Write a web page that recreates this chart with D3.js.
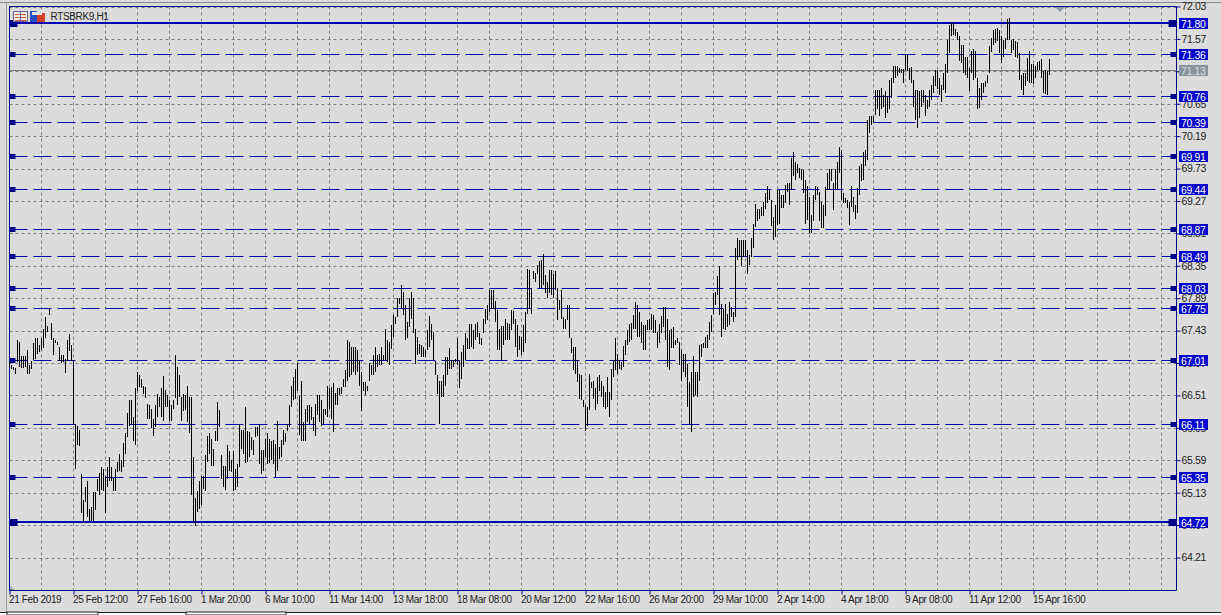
<!DOCTYPE html>
<html>
<head>
<meta charset="utf-8">
<title>RTSBRK9,H1</title>
<script src="https://cdn.jsdelivr.net/npm/d3@7"></script>
<style>
  html, body { margin: 0; padding: 0; background: #dcdcdc; overflow: hidden; }
  text { font-family: "Liberation Sans", Arial, sans-serif; font-size: 10px; letter-spacing: -0.35px; }
</style>
</head>
<body>
<div id="chart"></div>
<script>
// Hourly bars, one high and one low per bar
const highs = [
66.99,66.94,66.92,66.90,67.29,67.27,67.07,67.07,67.07,67.16,66.94,67.00,67.25,67.32,67.32,67.22,
67.32,67.45,67.63,67.49,67.74,67.54,67.33,67.29,67.27,67.20,67.08,67.09,67.03,67.30,67.38,67.22,
67.01,66.10,66.08,66.02,65.40,65.03,65.21,65.30,64.90,64.92,65.14,65.14,65.33,65.41,65.49,65.47,
65.37,65.50,65.63,65.49,65.34,65.47,65.56,65.68,65.59,65.83,65.97,66.26,66.44,66.44,66.21,66.62,
66.84,66.80,66.75,66.65,66.63,66.39,66.38,66.32,66.18,66.37,66.53,66.49,66.61,66.78,66.59,66.51,
66.44,66.38,66.44,67.09,66.92,66.80,66.49,66.53,66.51,66.65,66.49,66.49,65.63,65.06,65.16,65.30,
65.37,65.37,65.66,65.94,65.97,65.89,65.75,66.01,66.42,66.31,65.66,65.51,65.51,65.81,65.72,65.59,
65.72,65.47,65.54,66.11,66.02,66.02,66.35,66.01,65.99,65.92,65.88,66.06,66.06,66.11,65.74,65.74,
65.89,65.97,65.89,65.87,65.88,65.82,66.15,65.78,65.88,66.02,65.97,66.11,66.38,66.65,66.77,66.89,
66.97,66.50,66.72,66.13,66.32,66.37,66.38,66.35,66.20,66.39,66.52,66.52,66.45,66.32,66.32,66.65,
66.61,66.63,66.68,66.54,66.61,66.61,66.63,66.75,66.87,67.29,67.27,67.20,67.20,67.20,67.15,67.02,
66.84,66.70,66.70,66.65,66.97,66.94,67.08,67.20,67.08,67.10,67.20,67.08,67.46,67.29,67.27,67.51,
67.65,67.63,67.89,67.89,68.08,67.98,67.79,67.55,67.89,67.98,67.89,67.46,67.34,67.24,67.22,67.20,
67.15,67.44,67.64,67.53,67.41,67.00,66.80,66.72,66.72,66.80,67.06,67.06,67.19,67.02,67.01,67.03,
67.33,67.01,67.13,67.22,67.40,67.32,67.52,67.53,67.44,67.53,67.55,67.39,67.33,67.60,67.74,67.79,
68.01,68.01,68.01,67.85,67.72,67.46,67.49,67.49,67.59,67.54,67.53,67.72,67.71,67.60,67.51,67.35,
67.34,67.51,67.70,68.31,68.29,68.03,68.27,68.25,68.36,68.42,68.43,68.52,68.22,68.12,68.29,68.29,
68.24,68.27,68.03,67.86,68.01,67.62,67.60,67.79,67.79,67.32,67.20,67.20,67.01,66.82,66.80,66.44,
66.37,66.35,66.82,66.70,66.72,66.61,66.77,66.80,66.72,66.65,66.56,66.77,66.56,66.89,67.01,67.32,
67.10,67.01,66.99,67.21,67.29,67.44,67.52,67.54,67.65,67.83,67.79,67.70,67.55,67.51,67.51,67.58,
67.60,67.67,67.65,67.58,67.41,67.53,67.64,67.77,67.77,67.59,67.44,67.46,67.48,67.29,67.32,67.27,
67.15,67.10,67.10,66.96,66.70,66.84,67.07,66.84,66.84,67.22,67.24,67.25,67.34,67.37,67.55,67.65,
67.97,67.98,68.20,68.34,67.81,67.74,67.81,67.67,67.84,67.77,67.70,68.60,68.75,68.72,68.72,68.72,
68.72,68.57,68.50,68.74,68.95,69.23,69.15,69.15,69.19,69.26,69.38,69.48,69.44,69.29,69.04,69.21,
69.43,69.43,69.36,69.36,69.50,69.52,69.52,69.88,69.96,69.82,69.80,69.74,69.72,69.71,69.57,69.48,
69.33,69.07,69.36,69.48,69.47,69.40,69.26,69.21,69.47,69.66,69.72,69.72,69.52,69.72,69.83,70.03,
69.99,69.38,69.31,69.29,69.26,69.48,69.33,69.21,69.45,69.76,69.80,69.96,70.00,70.42,70.47,70.47,
70.48,70.85,70.85,70.85,70.87,70.78,70.83,70.76,70.99,71.02,71.19,71.19,71.18,71.16,71.14,71.14,
71.35,71.35,71.16,71.17,70.99,70.85,70.85,70.83,70.85,70.85,70.78,70.71,70.85,70.91,71.04,71.13,
71.11,71.02,70.92,71.09,71.21,71.56,71.77,71.79,71.79,71.71,71.67,71.61,71.48,71.48,71.32,71.32,
71.16,71.40,71.42,71.40,71.02,70.87,70.94,70.95,70.97,71.06,71.47,71.58,71.69,71.71,71.73,71.69,
71.61,71.56,71.58,71.85,71.86,71.56,71.57,71.54,71.52,71.37,71.06,71.09,71.09,71.30,71.40,71.21,
71.21,71.18,71.24,71.25,71.29,71.11,71.13,71.11,71.29
];
const lows = [
66.91,66.88,66.87,66.81,66.99,66.91,66.90,66.90,66.92,66.81,66.81,66.89,67.01,67.03,67.10,67.13,
67.16,67.19,67.32,67.41,67.65,67.30,67.08,67.25,67.22,67.00,66.97,66.99,66.83,67.00,67.14,67.00,
66.11,65.47,65.80,65.79,64.84,64.72,65.00,64.78,64.73,64.73,64.73,64.88,65.16,65.10,65.17,65.16,
64.84,65.21,65.29,65.30,65.16,65.16,65.42,65.44,65.43,65.49,65.68,65.92,66.08,66.11,65.87,65.81,
66.58,66.63,66.61,66.53,66.48,66.18,66.17,66.05,65.94,66.06,66.21,66.35,66.20,66.15,66.34,66.35,
66.15,66.15,66.32,66.48,66.37,66.49,66.15,66.29,66.31,66.13,65.97,65.10,64.71,64.65,64.85,64.90,
64.95,65.18,65.16,65.56,65.68,65.51,65.51,65.87,65.87,66.06,65.33,65.21,65.17,65.33,65.44,65.42,
65.16,65.17,65.21,65.49,65.75,65.68,65.55,65.56,65.63,65.73,65.66,65.92,65.94,65.53,65.39,65.44,
65.63,65.54,65.55,65.59,65.54,65.35,65.44,65.61,65.63,65.80,65.85,66.01,66.06,66.35,66.44,66.46,
66.58,65.95,65.87,65.87,65.87,66.13,66.11,66.16,66.01,65.93,66.23,66.13,66.08,66.11,66.23,66.20,
66.32,66.18,65.99,66.37,66.37,66.51,66.53,66.63,66.63,66.72,66.77,66.80,66.84,66.80,66.84,66.65,
66.29,66.58,66.51,66.58,66.72,66.80,66.80,66.84,66.91,66.94,66.94,67.01,67.01,66.98,66.94,67.17,
67.34,67.52,67.63,67.81,67.74,67.65,67.30,67.32,67.48,67.60,67.39,66.96,67.08,67.10,67.06,67.06,
67.05,67.15,67.20,67.29,67.01,66.80,66.53,66.10,66.49,66.49,66.65,66.80,66.88,66.89,66.91,66.98,
66.94,66.61,66.75,66.91,67.01,67.17,67.17,67.20,67.17,67.29,67.34,67.24,67.22,67.40,67.53,67.58,
67.70,67.74,67.74,67.55,67.15,67.15,67.00,67.22,67.29,67.29,67.29,67.44,67.53,67.20,67.05,67.15,
67.08,67.13,67.25,67.67,67.74,67.66,68.16,68.12,68.24,68.03,68.03,68.08,67.96,67.89,67.96,67.93,
67.89,68.00,67.58,67.72,67.60,67.46,67.46,67.58,67.32,67.11,66.87,66.82,66.70,66.46,66.44,66.35,
66.01,66.08,66.30,66.61,66.46,66.30,66.39,66.58,66.49,66.34,66.32,66.35,66.20,66.44,66.77,66.87,
66.82,66.89,66.87,66.91,67.08,67.22,67.27,67.29,67.46,67.46,67.34,67.34,67.25,67.15,67.15,67.44,
67.44,67.44,67.39,67.39,67.18,67.25,67.39,67.48,67.29,66.91,66.87,67.18,67.18,67.22,67.25,66.94,
66.72,66.84,66.77,66.35,66.11,65.99,66.49,66.51,66.49,66.72,67.06,67.18,67.18,67.18,67.29,67.41,
67.67,67.79,67.93,67.65,67.34,67.46,67.44,67.48,67.51,67.63,67.55,67.63,68.43,68.48,68.35,68.48,
68.47,68.24,68.36,68.48,68.60,68.90,68.98,69.02,69.05,69.05,69.15,69.24,69.29,68.91,68.72,68.76,
68.93,68.95,69.17,69.17,69.24,69.40,69.21,69.43,69.62,69.57,69.66,69.59,69.57,69.38,68.95,69.00,
68.81,68.81,68.98,69.29,69.36,68.98,68.88,68.88,69.06,69.43,69.43,69.55,69.14,69.43,69.43,69.66,
69.29,69.24,69.24,69.17,68.93,69.19,69.12,69.02,69.10,69.36,69.56,69.57,69.76,69.85,70.23,70.35,
70.39,70.49,70.57,70.47,70.57,70.61,70.45,70.52,70.57,70.73,70.95,71.02,71.04,71.09,71.08,70.94,
71.13,71.11,70.99,70.95,70.61,70.42,70.30,70.45,70.61,70.66,70.47,70.57,70.61,70.71,70.80,70.90,
70.86,70.78,70.68,70.85,70.80,71.09,71.37,71.61,71.63,71.61,71.56,71.25,71.23,71.09,71.06,71.02,
70.83,71.09,70.99,71.02,70.57,70.59,70.71,70.80,70.89,70.94,71.09,71.38,71.49,71.51,71.54,71.37,
71.23,71.32,71.42,71.56,71.56,71.37,71.41,71.32,71.30,70.99,70.85,70.77,70.90,70.97,70.94,70.94,
70.93,71.02,71.13,71.13,71.02,70.80,70.79,70.78,71.06
];

const priceTicks = [72.03,71.57,71.11,70.65,70.19,69.73,69.27,68.81,68.35,67.89,67.43,66.97,66.51,66.05,65.59,65.13,64.67,64.21];
const timeLabels = ["21 Feb 2019","25 Feb 12:00","27 Feb 16:00","1 Mar 20:00","6 Mar 10:00","11 Mar 14:00","13 Mar 18:00","18 Mar 08:00","20 Mar 12:00","22 Mar 16:00","26 Mar 20:00","29 Mar 10:00","2 Apr 14:00","4 Apr 18:00","9 Apr 08:00","11 Apr 12:00","15 Apr 16:00"];
const gridBars = d3.range(0, 584, 16); // vertical grid, every 16 bars
const labelBars = d3.range(0, 544, 32); // one time label every 32 bars
const solidLevels = [71.80, 64.72];
const dashedLevels = [71.36, 70.76, 70.39, 69.91, 69.44, 68.87, 68.49, 68.03, 67.75, 67.01, 66.11, 65.35];
const lastPrice = 71.13;

const width = 1221, height = 615;
const plotLeft = 9.5, plotRight = 1176.5, plotTop = 6.5, plotBottom = 590.5;
const levelBlue = "#0000b0", frameBlue = "#000088", labelBlue = "#0000cd";

const svg = d3.select("#chart").append("svg")
    .attr("width", width)
    .attr("height", height)
    .style("display", "block");

const x = d3.scaleLinear().domain([0, 583.5]).range([plotLeft, plotRight]);
const y = d3.scaleLinear().domain([64.21, 72.03]).range([557.5, 6.5]);
const crispY = d => Math.round(y(d)) + 0.5; // keep 1px lines on the pixel grid

// window furniture around the plot
svg.append("rect").attr("width", width).attr("height", height).attr("fill", "#dcdcdc");
svg.append("line").attr("x1", 0).attr("x2", width).attr("y1", 2.5).attr("y2", 2.5).attr("stroke", "#8a8a8a");
svg.append("line").attr("x1", 6.5).attr("x2", 6.5).attr("y1", 3).attr("y2", 612).attr("stroke", "#9a9a9a");
svg.append("rect").attr("x", 0).attr("y", 612).attr("width", width).attr("height", 3).attr("fill", "#fff");
svg.append("line").attr("x1", 0).attr("x2", width).attr("y1", 612.5).attr("y2", 612.5).attr("stroke", "#222");
svg.append("rect").attr("x", 7).attr("y", 612).attr("width", 91).attr("height", 3).attr("fill", "#fff").attr("stroke", "#222");
svg.append("rect").attr("x", 186).attr("y", 612).attr("width", 100).attr("height", 3).attr("fill", "#fff").attr("stroke", "#222");

// grid
const gridColor = "#7f7f7f";
svg.append("g").selectAll("line")
    .data(priceTicks)
    .enter().append("line")
    .attr("x1", plotLeft).attr("x2", plotRight)
    .attr("y1", crispY).attr("y2", crispY)
    .attr("stroke", gridColor).attr("stroke-dasharray", "3 3");
svg.append("g").selectAll("line")
    .data(gridBars)
    .enter().append("line")
    .attr("x1", d => x(d)).attr("x2", d => x(d))
    .attr("y1", plotTop).attr("y2", plotBottom)
    .attr("stroke", gridColor).attr("stroke-dasharray", "3 3");

// axes on the right and at the bottom
const yAxis = svg.append("g")
    .attr("transform", `translate(${plotRight},0)`)
    .call(d3.axisRight(y).tickValues(priceTicks).tickSize(4).tickPadding(1).tickFormat(d3.format(".2f")));
yAxis.select(".domain").remove();
yAxis.selectAll("line").attr("stroke", frameBlue);
yAxis.selectAll("text").attr("fill", "#222").style("font-size", "10.5px");

const xAxis = svg.append("g")
    .attr("transform", `translate(0,${plotBottom})`)
    .call(d3.axisBottom(x).tickValues(labelBars).tickSize(4).tickPadding(1).tickFormat((d, i) => timeLabels[i]));
xAxis.select(".domain").remove();
xAxis.selectAll("line").attr("stroke", frameBlue);
xAxis.selectAll("text").attr("text-anchor", "start").attr("dx", "-1").attr("fill", "#222");

// plot frame
svg.append("path")
    .attr("d", `M${plotLeft},${plotTop}H${plotRight}V${plotBottom}H${plotLeft}Z`)
    .attr("fill", "none")
    .attr("stroke", frameBlue);

// grey line of the last price
svg.append("line")
    .attr("x1", plotLeft).attr("x2", plotRight)
    .attr("y1", crispY(lastPrice)).attr("y2", crispY(lastPrice))
    .attr("stroke", "#808080");

// support and resistance levels
svg.append("g").selectAll("line")
    .data(dashedLevels)
    .enter().append("line")
    .attr("x1", plotLeft).attr("x2", plotRight)
    .attr("y1", crispY).attr("y2", crispY)
    .attr("stroke", levelBlue)
    .attr("stroke-dasharray", "18 6");
svg.append("g").selectAll("line")
    .data(solidLevels)
    .enter().append("line")
    .attr("x1", plotLeft).attr("x2", plotRight)
    .attr("y1", d => Math.round(y(d))).attr("y2", d => Math.round(y(d)))
    .attr("stroke", levelBlue)
    .attr("stroke-width", 2);

// the bars, one black stroke each
svg.append("g").selectAll("line")
    .data(highs)
    .enter().append("line")
    .attr("x1", (d, i) => x(i)).attr("x2", (d, i) => x(i))
    .attr("y1", d => Math.round(y(d))).attr("y2", (d, i) => Math.round(y(lows[i])))
    .attr("stroke", "#000");

// level end markers and price labels
const allLevels = solidLevels.concat(dashedLevels);
const isSolid = d => solidLevels.includes(d);
const markers = svg.append("g").selectAll("g")
    .data(allLevels)
    .enter().append("g")
    .attr("transform", d => `translate(0,${crispY(d)})`);
markers.append("rect")
    .attr("x", plotLeft)
    .attr("y", d => isSolid(d) ? -3.5 : -2.5)
    .attr("width", d => isSolid(d) ? 8 : 6)
    .attr("height", d => isSolid(d) ? 7 : 5)
    .attr("fill", frameBlue);
markers.append("rect")
    .attr("x", d => plotRight - (isSolid(d) ? 8 : 6))
    .attr("y", d => isSolid(d) ? -3.5 : -2.5)
    .attr("width", d => isSolid(d) ? 8 : 6)
    .attr("height", d => isSolid(d) ? 7 : 5)
    .attr("fill", frameBlue);
markers.append("rect")
    .attr("x", 1179).attr("y", -5.5)
    .attr("width", 29).attr("height", 11)
    .attr("fill", labelBlue);
markers.append("text")
    .attr("x", 1181).attr("y", 4)
    .attr("fill", "#fff")
    .style("font-size", "10.5px")
    .text(d => d.toFixed(2));

// last price label, in grey
svg.append("rect")
    .attr("x", 1179).attr("y", Math.round(y(lastPrice)) - 5)
    .attr("width", 29).attr("height", 11)
    .attr("fill", "#8a939c");
svg.append("text")
    .attr("x", 1181).attr("y", Math.round(y(lastPrice)) + 4.5)
    .attr("fill", "#d8dde0")
    .style("font-size", "10.5px")
    .text(lastPrice.toFixed(2));

// small markers: shift triangle on top, scale fix triangle bottom left
svg.append("path").attr("d", "M1055,7H1065L1060,12Z").attr("fill", "#8a9aa6");
svg.append("path").attr("d", "M10,586L15,590H10Z").attr("fill", "#9aa4ac");

// toolbar icons and the symbol title
const icons = svg.append("g");
icons.append("rect").attr("x", 13.5).attr("y", 11.5).attr("width", 14).attr("height", 10).attr("fill", "#f2ece0").attr("stroke", "#6a6a9a");
icons.selectAll(".row").data([14, 17, 20]).enter().append("line")
    .attr("x1", 15).attr("x2", 26).attr("y1", d => d + 0.5).attr("y2", d => d + 0.5).attr("stroke", "#d05a40");
icons.append("line").attr("x1", 20.5).attr("x2", 20.5).attr("y1", 12).attr("y2", 21).attr("stroke", "#5a6ac0");
icons.append("rect").attr("x", 30).attr("y", 11).attr("width", 7).attr("height", 11).attr("fill", "#2a50c8");
icons.append("rect").attr("x", 37).attr("y", 13).attr("width", 8).attr("height", 9).attr("fill", "#d0402a");
icons.append("rect").attr("x", 32).attr("y", 12).attr("width", 10).attr("height", 3).attr("fill", "#e6e6e6");
svg.append("text")
    .attr("x", 50.5).attr("y", 20)
    .attr("fill", "#222")
    .text("RTSBRK9,H1");
</script>
</body>
</html>
